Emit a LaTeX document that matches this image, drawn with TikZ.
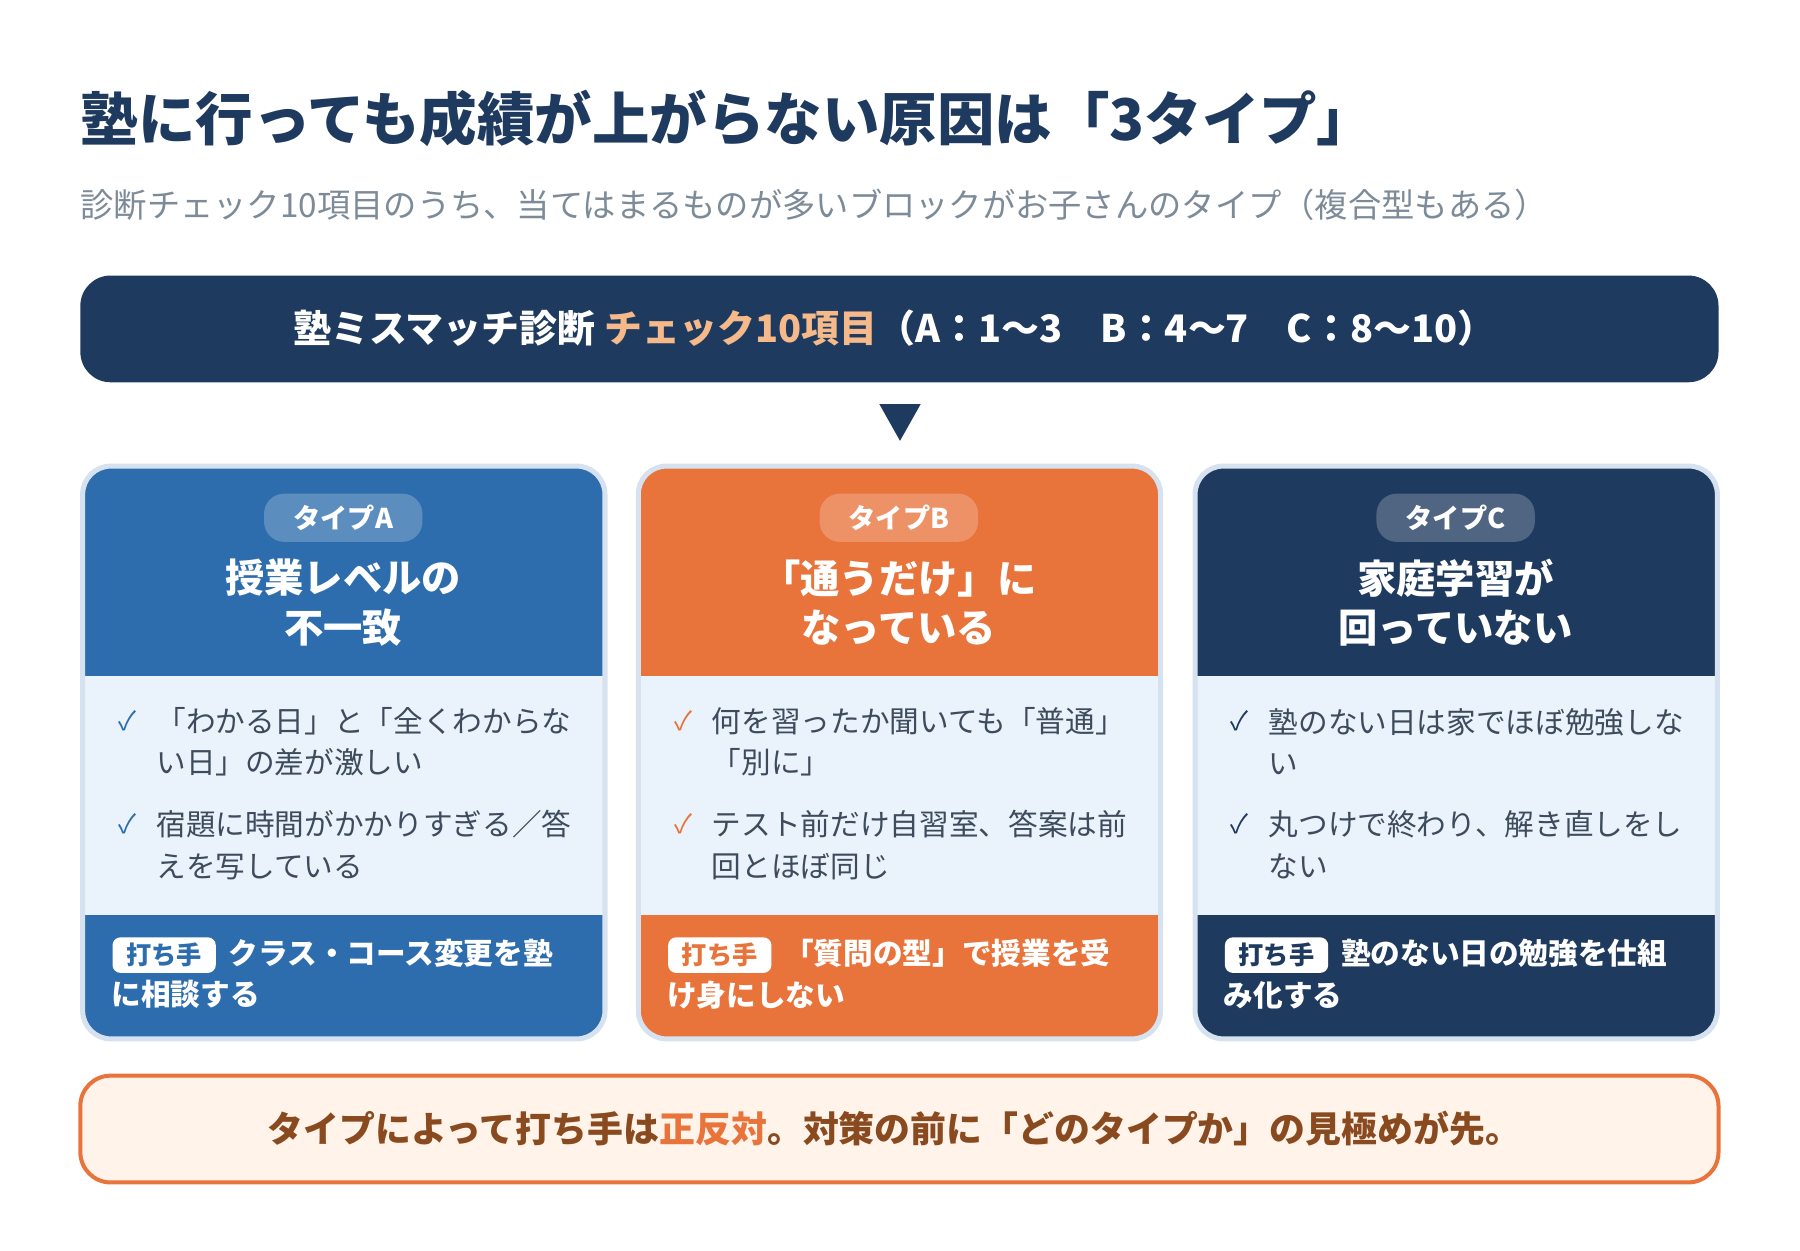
\documentclass[tikz,border=0pt]{standalone}
\usepackage{fontspec}
\setmainfont{Noto Sans CJK JP}
\begin{document}
\definecolor{navy}{HTML}{1F3A5F}
\definecolor{blueA}{HTML}{2E6DAD}
\definecolor{orng}{HTML}{E8743B}
\definecolor{bodyc}{HTML}{EAF2FB}
\definecolor{bordc}{HTML}{D6E2EF}
\definecolor{subg}{HTML}{7D8B99}
\definecolor{txt}{HTML}{3D4B5C}
\definecolor{peach}{HTML}{F6B98A}
\definecolor{brown}{HTML}{8A4A1F}
\definecolor{cream}{HTML}{FFF3EA}
\begin{tikzpicture}[x=0.02cm,y=-0.02cm,
  badge/.style={fill=white,fill opacity=0.22,text opacity=1,rounded corners=10pt,minimum width=138*0.02cm,minimum height=42*0.02cm,text=white,font=\fontsize{13.5}{14}\selectfont\bfseries},
  ctitle/.style={text=white,align=center,font=\fontsize{19.5}{24.5}\selectfont\bfseries},
  bul/.style={anchor=west,text=txt,font=\fontsize{14.7}{20.5}\selectfont,align=left},
  chk/.style={anchor=center,font=\fontsize{13}{14}\selectfont},
  act/.style={anchor=north west,text=white,font=\fontsize{14.7}{20.5}\selectfont\bfseries,align=left},
  tag/.style={fill=white,rounded corners=4pt,minimum width=90*0.02cm,minimum height=31*0.02cm,inner sep=0pt,font=\fontsize{12.5}{13}\selectfont\bfseries}]
\useasboundingbox (0,0) rectangle (1568,1089);
\node[anchor=west,text=navy,font=\fontsize{28.5}{32}\selectfont\bfseries] (title) at (64,103) {塾に行っても成績が上がらない原因は「3タイプ」};
\node[anchor=west,text=subg,font=\fontsize{16.5}{18}\selectfont] (sub) at (64,178) {診断チェック10項目のうち、当てはまるものが多いブロックがお子さんのタイプ（複合型もある）};
\fill[navy,rounded corners=15] (70,240) rectangle (1497,333);
\node[text=white,font=\fontsize{18.8}{20}\selectfont\bfseries] (hdr) at (779,286) {塾ミスマッチ診断 \textcolor{peach}{チェック10項目}（A：1〜3　B：4〜7　C：8〜10）};
\fill[navy] (766,352) -- (802,352) -- (784,384) -- cycle;
\foreach \x/\c/\lab/\ti/\ba/\bb/\ca/\cb/\ac [count=\i] in {
 72/blueA/A/{授業レベルの\\不一致}/{「わかる日」と「全くわからな\\い日」の差が激しい}/{宿題に時間がかかりすぎる／答\\えを写している}/blueA/blueA/{クラス・コース変更を塾\\に相談する},
 556/orng/B/{「通うだけ」に\\なっている}/{何を習ったか聞いても「普通」\\「別に」}/{テスト前だけ自習室、答案は前\\回とほぼ同じ}/orng/orng/{「質問の型」で授業を受\\け身にしない},
 1041/navy/C/{家庭学習が\\回っていない}/{塾のない日は家でほぼ勉強しな\\い}/{丸つけで終わり、解き直しをし\\ない}/navy/navy/{塾のない日の勉強を仕組\\み化する}}{
  \begin{scope}
  \path[clip,rounded corners=14] (\x,406) rectangle ++(455,499);
  \fill[\c] (\x,406) rectangle ++(455,183);
  \fill[bodyc] (\x,589) rectangle ++(455,208);
  \fill[\c] (\x,797) rectangle ++(455,108);
  \end{scope}
  \draw[bordc,line width=2.5pt,rounded corners=14] (\x,406) rectangle ++(455,499);
  \node[badge] (b\i) at (\x+227,451) {タイプ\lab};
  \node[ctitle] (t\i) at (\x+227,525) {\ti};
  \node[chk,text=\ca] (ka\i) at (\x+39,628) {✓};
  \node[bul] (ba\i) at (\x+58,646) {\ba};
  \node[chk,text=\ca] (kb\i) at (\x+39,718) {✓};
  \node[bul] (bb\i) at (\x+58,736) {\bb};
  \node[tag,text=\c] (g\i) at (\x+71,832) {打ち手};
  \node[act] (a\i) at (\x+19,812) {\hspace{102\dimexpr0.02cm\relax}\ac};
}
\draw[orng,line width=2pt,fill=cream,rounded corners=15] (70,937) rectangle (1497,1030);
\node[text=brown,font=\fontsize{17.8}{20}\selectfont\bfseries] (bot) at (779,983) {タイプによって打ち手は\textcolor{orng}{正反対}。対策の前に「どのタイプか」の見極めが先。};
\end{tikzpicture}
\end{document}
